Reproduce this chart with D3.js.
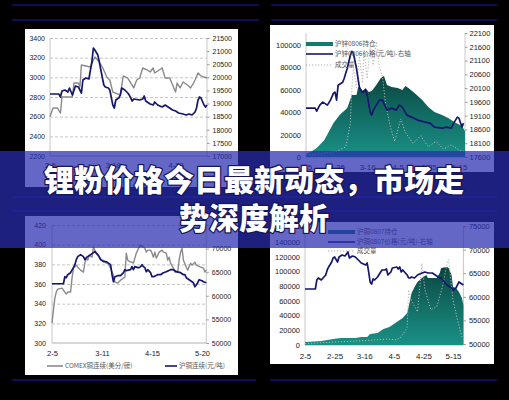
<!DOCTYPE html>
<html>
<head>
<meta charset="utf-8">
<script src="https://cdn.jsdelivr.net/npm/d3@7"></script>
<style>
  html, body { margin: 0; padding: 0; background: #000; }
  svg { display: block; }
</style>
</head>
<body>
<svg id="chart" width="509" height="400"></svg>
<script>
// ---- data: [day offset from 2-5, value] ----

// Zinc: LME (USD/t, left axis) vs SHFE index (CNY/t, right axis)
const zincLmeGray = [[0,2600],[2,2688],[5,2688],[7,2637],[8,2800],[15,2800],[16,2942],[19,2942],[20,2902],[21,3125],[27,3105],[30,3207],[33,3156],[35,3105],[38,3003],[40,2973],[42,2851],[47,2820],[49,3014],[52,2993],[56,2892],[58,2973],[60,2993],[62,3095],[65,3075],[67,3054],[69,3095],[70,3044],[75,3095],[77,2993],[80,2993],[82,2922],[84,2851],[85,2942],[87,2892],[89,2953],[92,2922],[94,2892],[96,2942],[97,2973],[99,3044],[101,3014],[103,3003],[105,2993]];
const zincShfeNavy = [[0,19364],[6,19364],[7,19250],[8,19479],[10,19517],[12,19440],[13,19593],[15,19326],[17,19669],[19,19631],[20,19517],[21,19402],[22,19898],[24,19975],[26,19936],[28,20585],[29,21119],[30,21042],[32,20851],[33,20585],[34,20280],[36,19707],[37,19631],[39,19593],[40,19517],[42,18945],[43,18830],[44,19135],[46,19212],[47,19326],[48,19593],[50,19517],[52,19402],[53,19326],[54,19212],[55,19097],[56,19173],[60,19135],[62,19173],[63,19288],[64,19097],[67,18983],[69,18945],[70,19059],[72,18945],[75,18868],[77,18945],[79,18868],[82,18754],[84,18716],[86,18640],[89,18601],[91,18563],[93,18601],[95,18563],[97,18678],[98,18830],[99,19135],[100,19250],[101,19212],[103,18945],[104,18868],[105,18945]];
const p1LeftTicks = [2200,2400,2600,2800,3000,3200,3400];
const p1RightTicks = [17000,17500,18000,18500,19000,19500,20000,20500,21000,21500];
const p1XDays = [0,42,84];
const p1XLabels = ["2-5","3-18","4-29"];

// Zinc 0806: open interest (left), price (right), volume (left)
const zn0806OpenInt = [[0,2679],[4,5358],[7,8037],[12,15181],[18,30362],[22,37506],[27,43757],[30,55366],[33,55366],[34,61617],[35,63403],[37,58938],[39,61617],[41,58045],[43,58938],[46,64296],[49,70547],[51,72333],[53,64296],[56,62510],[60,61617],[63,59831],[65,63403],[67,61617],[71,57152],[76,50901],[80,44650],[84,40185],[89,37506],[93,34827],[97,31255],[102,27683],[104,23218]];
const zn0806Price = [[0,19374],[6,19374],[7,19265],[9,19482],[11,19591],[14,19482],[16,19663],[18,19917],[19,19953],[20,19663],[21,20206],[24,20315],[25,20460],[27,20822],[29,21292],[30,21437],[31,21365],[33,20822],[35,20098],[37,19953],[39,20025],[40,19844],[42,19229],[43,19120],[44,19301],[46,19482],[48,19663],[50,19663],[53,19301],[56,19374],[59,19301],[61,19482],[63,19410],[66,19120],[69,19048],[73,18939],[78,18867],[81,18831],[84,18686],[89,18650],[92,18686],[95,18650],[97,18867],[99,19048],[100,19012],[102,18686],[103,18831]];
const zn0806Volume = [[0,2000],[10,3000],[20,5000],[26,9000],[29,30000],[30,62000],[31,80000],[33,62000],[35,90000],[37,66000],[38,96000],[40,70000],[42,100000],[44,82000],[46,103000],[48,80000],[50,72000],[52,48000],[55,28000],[58,14000],[62,34000],[65,22000],[70,12000],[75,19000],[80,9000],[85,14000],[90,7000],[95,11000],[100,6000],[104,5000]];
const p2LeftTicks = [0,20000,40000,60000,80000,100000];
const p2RightTicks = [17600,18100,18600,19100,19600,20100,20600,21100,21600,22100];
const p2XDays = [0,20,40,60,80,100];
const p2XLabels = ["2-5","2-25","3-16","4-5","4-25","5-15"];

// Copper: COMEX (US cents/lb, left) vs SHFE (CNY/t, right)
const cuComexGray = [[0,320.3],[1,333.5],[2,345.7],[3,351.8],[4,354.8],[7,355.8],[8,353.8],[10,349.7],[11,351.8],[13,351.8],[14,366],[15,376.1],[17,379.2],[18,377.1],[20,374.1],[22,372.1],[23,381.2],[24,386.3],[25,384.2],[26,389.3],[28,387.3],[29,397.4],[31,391.4],[32,389.3],[33,387.3],[35,384.2],[36,384.2],[38,381.2],[39,381.2],[41,376.1],[43,369],[44,361.9],[46,360.9],[48,363.9],[50,366],[51,367],[52,391.4],[53,384.2],[55,382.2],[56,382.2],[57,381.2],[59,391.4],[60,394.4],[61,397.4],[62,399.5],[64,397.4],[65,396.4],[66,392.4],[67,394.4],[69,394.4],[70,391.4],[71,387.3],[72,392.4],[73,386.3],[74,389.3],[75,392.4],[77,394.4],[78,392.4],[80,391.4],[81,384.2],[82,387.3],[83,381.2],[85,376.1],[86,372.1],[88,372.1],[89,384.2],[90,392.4],[91,396.4],[92,384.2],[94,377.1],[95,374.1],[97,381.2],[98,379.2],[100,382.2],[101,379.2],[104,377.1],[106,376.1],[107,372.1],[108,374.1]];
const cuShfeNavy = [[0,62555],[8,62555],[9,64045],[10,63832],[11,64470],[13,64896],[15,65960],[16,66598],[17,67662],[18,68301],[20,68726],[22,68301],[23,67662],[24,68088],[25,68301],[27,68726],[29,69152],[30,69365],[32,68726],[33,68301],[34,67662],[36,67237],[38,67237],[39,67024],[41,66598],[42,64470],[43,62981],[44,64045],[46,64258],[48,64258],[50,64896],[51,65534],[52,65322],[55,65534],[56,66173],[57,65534],[58,66173],[60,65960],[61,65960],[62,66173],[63,66598],[64,66173],[65,65960],[66,65109],[67,65534],[69,64896],[70,64045],[71,64045],[74,64470],[76,64470],[78,64896],[80,65109],[83,65534],[85,65534],[87,65109],[90,64896],[92,64470],[93,64470],[94,63832],[96,63406],[98,62981],[99,62768],[100,61917],[102,62768],[103,63406],[105,63194],[106,62981],[108,62768]];
const p3LeftTicks = [300,320,340,360,380,400,420];
const p3RightTicks = [50000,55000,60000,65000,70000,75000];
const p3XDays = [0,35,70,105];
const p3XLabels = ["2-5","3-11","4-15","5-20"];

// Copper 0807: open interest (left), price (right), volume (left)
const cu0807OpenInt = [[0,4083],[11,5444],[19,8166],[24,9527],[29,9527],[34,9527],[38,10888],[42,10888],[44,14971],[49,16332],[53,21776],[57,24498],[61,29942],[66,36747],[69,43552],[70,51718],[72,70772],[74,78938],[76,85743],[79,91187],[82,95270],[83,91187],[86,91187],[89,91187],[91,97992],[92,104797],[96,106158],[97,104797],[99,95270],[100,78938],[102,77577],[104,72133],[106,63967],[107,54440]];
const cu0807Price = [[0,61655],[7,61655],[8,63562],[9,63985],[11,63562],[14,64621],[15,65681],[16,66316],[18,67376],[19,68223],[20,68435],[22,67376],[23,68435],[25,68859],[27,68647],[29,69495],[30,68223],[32,68647],[34,68435],[36,67800],[38,67164],[41,66740],[42,67164],[43,65257],[44,63138],[45,62714],[46,63774],[47,63562],[49,64197],[52,65681],[54,65681],[55,65893],[56,64621],[58,65257],[59,66104],[62,66316],[63,65893],[64,66316],[65,65257],[66,65681],[69,64621],[70,63985],[71,63985],[72,64197],[74,63985],[76,64621],[79,65045],[81,65257],[83,65045],[86,65045],[88,64621],[90,64197],[92,63985],[94,63138],[96,62502],[99,61866],[100,61443],[102,61866],[104,63138],[105,62926],[107,62502]];
const cu0807Volume = [[0,2000],[20,4000],[40,6000],[55,8000],[62,7000],[65,11000],[69,24000],[70,75000],[72,60000],[76,45000],[79,111000],[81,75000],[85,48000],[89,52000],[93,80000],[96,111000],[97,116000],[100,61000],[103,34000],[106,11000]];
const p4LeftTicks = [0,20000,40000,60000,80000,100000,120000,140000];
const p4RightTicks = [50000,55000,60000,65000,70000,75000];
const p4XDays = [0,20,40,60,80,100];
const p4XLabels = ["2-5","2-25","3-16","4-5","4-25","5-15"];

const headline = ["锂粉价格今日最新动态，市场走", "势深度解析"];

// ---- drawing ----
const svg = d3.select("#chart");
const NAVY = "#16166e", GRAY = "#8a8a8a";
const FONT = "'Liberation Sans', Arial, sans-serif";
const CJK = "'Noto Sans CJK SC', sans-serif";

svg.append("rect").attr("width", 509).attr("height", 400).attr("fill", "#000");

// slide rules
const rules = [
  {y: 5, segs: [[12,259],[271,497]]},
  {y: 20, segs: [[12,259],[271,497]]},
  {y: 197, segs: [[12,259],[271,497]]},
  {y: 211, segs: [[12,259],[271,497]]},
  {y: 380, segs: [[12,256],[270,497]]}
];
rules.forEach(r => r.segs.forEach(s => {
  svg.append("line").attr("x1", s[0]).attr("x2", s[1]).attr("y1", r.y).attr("y2", r.y)
    .attr("stroke", "#0c0c58").attr("stroke-width", 2);
}));

const defs = svg.append("defs");
function tealGradient(id) {
  const gr = defs.append("linearGradient").attr("id", id).attr("x1", 0).attr("x2", 0).attr("y1", 0).attr("y2", 1);
  gr.append("stop").attr("offset", "0%").attr("stop-color", "#0b4540");
  gr.append("stop").attr("offset", "45%").attr("stop-color", "#116a62");
  gr.append("stop").attr("offset", "100%").attr("stop-color", "#1a9185");
}
tealGradient("teal2");
tealGradient("teal4");

function styleAxis(ax, size) {
  ax.select(".domain").remove();
  ax.selectAll("text").attr("font-family", FONT).attr("font-size", size).attr("fill", "#222");
}

function panel(cfg) {
  const g = svg.append("g");
  const clipId = "clip" + cfg.id;
  defs.append("clipPath").attr("id", clipId).append("rect")
    .attr("x", cfg.box[0]).attr("y", cfg.box[1]).attr("width", cfg.box[2]).attr("height", cfg.box[3]);
  g.attr("clip-path", `url(#${clipId})`);
  g.append("rect").attr("x", cfg.box[0]).attr("y", cfg.box[1]).attr("width", cfg.box[2]).attr("height", cfg.box[3]).attr("fill", "#fff");

  const x = d3.scaleLinear().domain(cfg.xDomain).range([cfg.x0, cfg.x1]);
  const yL = d3.scaleLinear().domain(cfg.left.domain).range(cfg.left.range);
  const yR = d3.scaleLinear().domain(cfg.right.domain).range(cfg.right.range);
  const yBottom = cfg.left.range[0];

  // dashed grid
  if (cfg.grid) {
    const gg = g.append("g").attr("transform", `translate(${cfg.x0},0)`)
      .call(d3.axisLeft(yL).tickValues(cfg.left.ticks.slice(1)).tickSize(-(cfg.x1 - cfg.x0)).tickFormat(""));
    gg.select(".domain").remove();
    gg.selectAll("line").attr("stroke", "#b8b8b8").attr("stroke-dasharray", "3,2").attr("stroke-width", 0.8);
  }

  // frame lines
  g.append("line").attr("x1", cfg.x0).attr("x2", cfg.x0).attr("y1", cfg.plotTop).attr("y2", yBottom).attr("stroke", "#c8c8c8");
  g.append("line").attr("x1", cfg.x1).attr("x2", cfg.x1).attr("y1", cfg.plotTop).attr("y2", yBottom).attr("stroke", "#c8c8c8");
  g.append("line").attr("x1", cfg.x0).attr("x2", cfg.x1).attr("y1", yBottom).attr("y2", yBottom).attr("stroke", "#b0b0b0");

  // left axis labels
  const la = g.append("g").attr("transform", `translate(${cfg.x0},0)`)
    .call(d3.axisLeft(yL).tickValues(cfg.left.ticks).tickSize(0).tickPadding(cfg.left.pad).tickFormat(d3.format("d")));
  styleAxis(la, cfg.fs);
  // right axis with small outer ticks
  const ra = g.append("g").attr("transform", `translate(${cfg.x1},0)`)
    .call(d3.axisRight(yR).tickValues(cfg.right.ticks).tickSize(2.5).tickPadding(cfg.right.pad).tickFormat(d3.format("d")));
  styleAxis(ra, cfg.fs);
  ra.selectAll("line").attr("stroke", "#999");
  // bottom axis labels
  const ba = g.append("g").attr("transform", `translate(0,${yBottom})`)
    .call(d3.axisBottom(x).tickValues(cfg.xDays).tickSize(0).tickPadding(cfg.xPad).tickFormat((d, i) => cfg.xLabels[i]));
  styleAxis(ba, cfg.fs + 0.5);

  // open-interest area
  if (cfg.area) {
    g.append("path").datum(cfg.area)
      .attr("fill", `url(#${cfg.gradient})`)
      .attr("d", d3.area().x(d => x(d[0])).y0(yBottom).y1(d => yL(d[1])));
  }
  // volume, dotted
  if (cfg.volume) {
    g.append("path").datum(cfg.volume)
      .attr("fill", "none").attr("stroke", "#b4b4b4").attr("stroke-width", 1).attr("stroke-dasharray", "1.2,1.8")
      .attr("d", d3.line().x(d => x(d[0])).y(d => yL(d[1])));
  }
  (cfg.lines || []).forEach(s => {
    const ys = s.axis === "left" ? yL : yR;
    g.append("path").datum(s.data)
      .attr("fill", "none").attr("stroke", s.color).attr("stroke-width", s.width).attr("stroke-linejoin", "round")
      .attr("d", d3.line().x(d => x(d[0])).y(d => ys(d[1])));
  });

  // legend
  (cfg.legend || []).forEach(it => {
    if (it.kind === "bar") {
      g.append("rect").attr("x", it.x).attr("y", it.y - 2).attr("width", it.w).attr("height", 4).attr("fill", "#137a70");
    } else {
      g.append("line").attr("x1", it.x).attr("x2", it.x + it.w).attr("y1", it.y).attr("y2", it.y)
        .attr("stroke", it.color).attr("stroke-width", it.kind === "dot" ? 1 : 1.6)
        .attr("stroke-dasharray", it.kind === "dot" ? "1.2,1.8" : null);
    }
    g.append("text").attr("x", it.x + it.w + 2).attr("y", it.y).attr("dy", "0.35em")
      .attr("font-family", CJK).attr("font-size", 6.5).attr("fill", "#555").text(it.label);
  });
}

// top-left: zinc LME vs SHFE
panel({
  id: 1, box: [25, 29, 213, 158], x0: 50, x1: 207, plotTop: 38, xDomain: [0, 105],
  left: {domain: [2200, 3400], range: [156, 38], ticks: p1LeftTicks, pad: 5},
  right: {domain: [17000, 21500], range: [156, 38], ticks: p1RightTicks, pad: 3},
  xDays: p1XDays, xLabels: p1XLabels, xPad: 7, fs: 7, grid: true,
  lines: [
    {data: zincLmeGray, axis: "left", color: GRAY, width: 1.4},
    {data: zincShfeNavy, axis: "right", color: NAVY, width: 1.7}
  ]
});

// top-right: zinc 0806 contract
panel({
  id: 2, box: [270, 25, 224, 147], x0: 306, x1: 465, plotTop: 33, xDomain: [0, 104],
  left: {domain: [0, 100000], range: [157, 45], ticks: p2LeftTicks, pad: 5},
  right: {domain: [17600, 22100], range: [157, 33], ticks: p2RightTicks, pad: 2},
  xDays: p2XDays, xLabels: p2XLabels, xPad: 7, fs: 7.5, grid: false,
  area: zn0806OpenInt, gradient: "teal2", volume: zn0806Volume,
  lines: [{data: zn0806Price, axis: "right", color: NAVY, width: 1.7}],
  legend: [
    {kind: "bar", x: 306, y: 44, w: 27, label: "沪锌0806持仓"},
    {kind: "line", x: 306, y: 54, w: 27, color: NAVY, label: "沪锌0806价格(元/吨)-右轴"},
    {kind: "dot", x: 306, y: 65, w: 27, color: "#aaa", label: "成交量"}
  ]
});

// bottom-left: copper COMEX vs SHFE
panel({
  id: 3, box: [25, 216, 213, 159], x0: 52, x1: 206.3, plotTop: 225, xDomain: [0, 108],
  left: {domain: [300, 420], range: [343, 225], ticks: p3LeftTicks, pad: 6},
  right: {domain: [50000, 75000], range: [343, 225], ticks: p3RightTicks, pad: 3},
  xDays: p3XDays, xLabels: p3XLabels, xPad: 8, fs: 7, grid: true,
  lines: [
    {data: cuComexGray, axis: "left", color: GRAY, width: 1.4},
    {data: cuShfeNavy, axis: "right", color: NAVY, width: 1.7}
  ],
  legend: [
    {kind: "line", x: 47, y: 366, w: 16, color: GRAY, label: "COMEX铜连续(美分/磅)"},
    {kind: "line", x: 165, y: 366, w: 12, color: NAVY, label: "沪铜连续(元/吨)"}
  ]
});

// bottom-right: copper 0807 contract
panel({
  id: 4, box: [270, 222, 224, 142], x0: 305, x1: 463.4, plotTop: 226, xDomain: [0, 107],
  left: {domain: [0, 140000], range: [345, 242], ticks: p4LeftTicks, pad: 5},
  right: {domain: [50000, 75000], range: [344, 226], ticks: p4RightTicks, pad: 3},
  xDays: p4XDays, xLabels: p4XLabels, xPad: 8, fs: 7.5, grid: false,
  area: cu0807OpenInt, gradient: "teal4", volume: cu0807Volume,
  lines: [{data: cu0807Price, axis: "right", color: NAVY, width: 1.7}],
  legend: [
    {kind: "bar", x: 328, y: 232, w: 27, label: "沪铜0807持仓"},
    {kind: "line", x: 328, y: 242, w: 27, color: NAVY, label: "沪铜0807价格(元/吨)-右轴"},
    {kind: "dot", x: 328, y: 251, w: 27, color: "#aaa", label: "成交量"}
  ]
});

// headline banner
svg.append("rect").attr("x", 0).attr("y", 151).attr("width", 509).attr("height", 97)
  .attr("fill", "rgb(40,45,175)").attr("fill-opacity", 0.72);
svg.selectAll("text.headline").data(headline).enter().append("text")
  .attr("class", "headline")
  .attr("x", 254).attr("y", (d, i) => 178 + i * 38)
  .attr("dominant-baseline", "central").attr("text-anchor", "middle")
  .attr("font-family", CJK).attr("font-weight", 900).attr("font-size", 30)
  .attr("fill", "#fff").attr("stroke", "#15155a").attr("stroke-width", 2.5)
  .attr("paint-order", "stroke").attr("stroke-linejoin", "round")
  .text(d => d);
</script>
</body>
</html>
